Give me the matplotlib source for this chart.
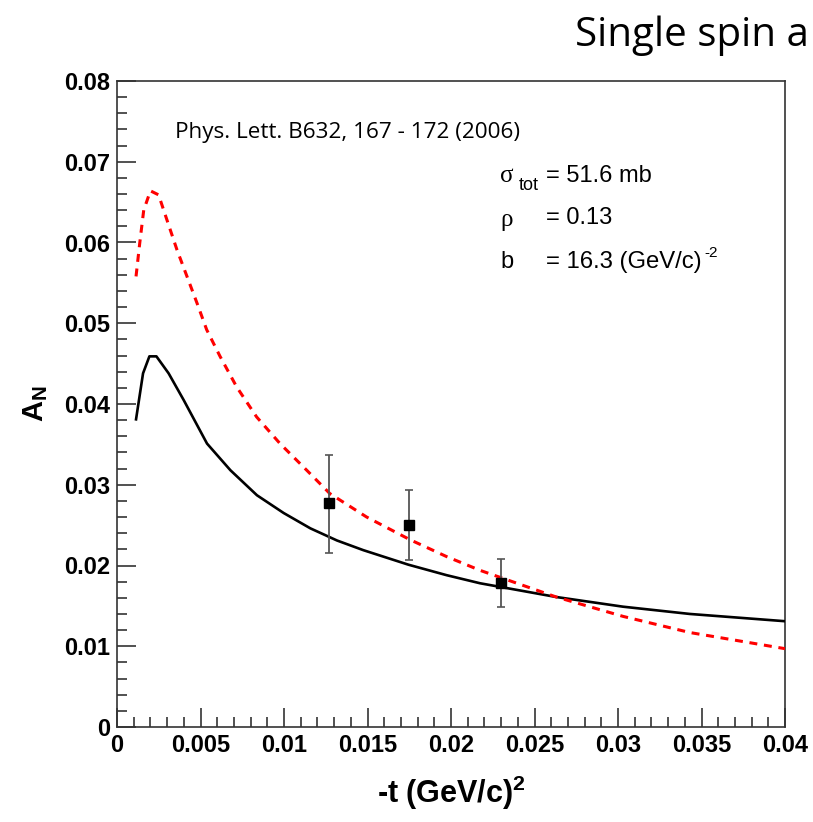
import numpy as np
import matplotlib
matplotlib.use("Agg")
import matplotlib.pyplot as plt
from matplotlib.ticker import MultipleLocator

plt.rcParams['font.family'] = ['Liberation Sans', 'DejaVu Sans']
plt.rcParams['mathtext.fontset'] = 'custom'
plt.rcParams['mathtext.rm'] = 'Liberation Sans'
plt.rcParams['mathtext.bf'] = 'Liberation Sans:bold'
plt.rcParams['mathtext.it'] = 'Liberation Sans:italic'

# measured points
t_data = [0.0127, 0.0175, 0.0230]
an_data = [0.0277, 0.0250, 0.0178]
an_err_hi = [0.0060, 0.0043, 0.0030]
an_err_lo = [0.0061, 0.0043, 0.0030]

# solid black curve
t_black = [0.00114, 0.00156, 0.00194, 0.00236, 0.00309, 0.00399, 0.00539, 0.00679,
           0.00838, 0.00998, 0.01158, 0.01317, 0.01475, 0.01745, 0.01974, 0.02174,
           0.0263, 0.0303, 0.0343, 0.0400]
an_black = [0.0381, 0.0438, 0.0459, 0.0459, 0.0438, 0.0405, 0.0351, 0.0318,
            0.0287, 0.0265, 0.0246, 0.0231, 0.0219, 0.0201, 0.0188, 0.0178,
            0.0161, 0.0149, 0.0140, 0.0131]

# dashed red curve
t_red = [0.00114, 0.00136, 0.0016, 0.0020, 0.00249, 0.00299, 0.00359, 0.00419, 0.00479,
         0.00537, 0.00617, 0.00717, 0.00836, 0.00976, 0.01136, 0.01275, 0.01495,
         0.01754, 0.01974, 0.02174, 0.0263, 0.0303, 0.0343, 0.0400]
an_red = [0.0558, 0.0599, 0.0640, 0.0664, 0.0659, 0.0628, 0.0591, 0.0558, 0.0525,
          0.0492, 0.0459, 0.0421, 0.0384, 0.0351, 0.0318, 0.0289, 0.0260,
          0.0232, 0.0211, 0.0194, 0.0161, 0.0137, 0.0117, 0.0097]

x_ticks = [0, 0.005, 0.01, 0.015, 0.02, 0.025, 0.03, 0.035, 0.04]
x_labels = ['0', '0.005', '0.01', '0.015', '0.02', '0.025', '0.03', '0.035', '0.04']
y_ticks = [0, 0.01, 0.02, 0.03, 0.04, 0.05, 0.06, 0.07, 0.08]
y_labels = ['0', '0.01', '0.02', '0.03', '0.04', '0.05', '0.06', '0.07', '0.08']

fig = plt.figure(figsize=(8.13, 8.22), dpi=100)
ax = fig.add_axes([117/813, 95/822, 668/813, 646/822])

ax.plot(t_black, an_black, color='black', lw=1.9, zorder=3)
ax.plot(t_red, an_red, color='#ff0000', lw=2.2, ls=(0, (2.6, 2.2)), zorder=3)
ax.errorbar(t_data, an_data, yerr=[an_err_lo, an_err_hi], fmt='s', color='black',
            ms=7, ecolor='#555555', elinewidth=1.3, capsize=3, capthick=1.2, zorder=4)

ax.set_xlim(0, 0.04)
ax.set_ylim(0, 0.08)
ax.set_xticks(x_ticks)
ax.set_xticklabels(x_labels, fontweight='bold')
ax.set_yticks(y_ticks)
ax.set_yticklabels(y_labels, fontweight='bold')
ax.xaxis.set_minor_locator(MultipleLocator(0.001))
ax.yaxis.set_minor_locator(MultipleLocator(0.002))
ax.tick_params(which='both', direction='in', top=False, right=False, color='#333333',
               width=1.2, labelsize=17, pad=5)
ax.tick_params(which='major', length=14)
ax.tick_params(which='minor', length=7)
for s in ax.spines.values():
    s.set_color('#333333')
    s.set_linewidth(1.2)

ax.set_xlabel(r'-t (GeV/c)$^\mathbf{2}$', fontsize=22, fontweight='bold', labelpad=12)
ax.set_ylabel(r'A$_\mathbf{N}$', fontsize=21, fontweight='bold', labelpad=10)

ax.text(0.0035, 0.0736, 'Phys. Lett. B632, 167 - 172 (2006)', fontsize=16.2,
        family=['Open Sans', 'DejaVu Sans'], va='center')

# parameter box
x0 = (500 - 117) / 16700
x1 = (546 - 117) / 16700
ax.text(x0, (727 - 176) / 8075, 'σ', family=['Liberation Serif'], fontsize=18, va='center')
ax.text(x0 + 0.00115, (727 - 186) / 8075, 'tot', fontsize=13, va='center')
ax.text(x1, (727 - 176) / 8075, '= 51.6 mb', fontsize=17, va='center')
ax.text(x0, (727 - 220) / 8075, 'ρ', family=['Liberation Serif'], fontsize=18, va='center')
ax.text(x1, (727 - 218) / 8075, '= 0.13', fontsize=17, va='center')
ax.text(x0, (727 - 262) / 8075, 'b', fontsize=17, va='center')
ax.text(x1, (727 - 262) / 8075, '= 16.3 (GeV/c)', fontsize=17.2, va='center')
ax.text((704 - 117) / 16700, (727 - 253) / 8075, '-2', fontsize=11, va='center')

fig.text(575/813, 1 - 46/822, 'Single spin a', fontsize=29,
         family=['Open Sans', 'DejaVu Sans'], va='baseline')

fig.savefig('out.png', dpi=100)
